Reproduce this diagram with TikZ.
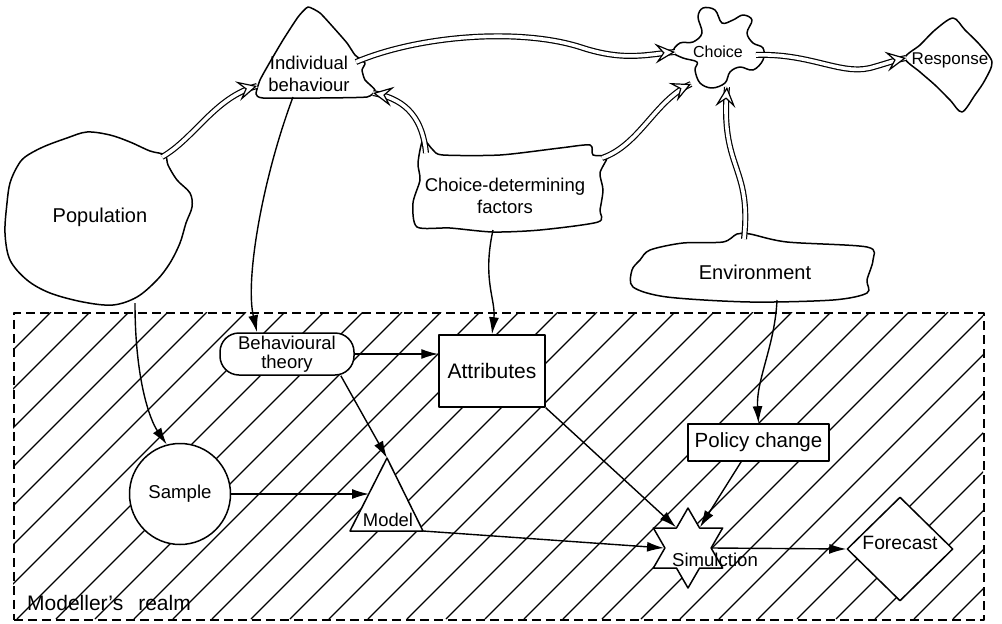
\documentclass[tikz,border=0pt]{standalone}
\usepackage{fontspec}
\setmainfont{Liberation Sans}
\usetikzlibrary{arrows.meta,shapes.geometric,calc}
\newcommand\fsz[2]{\fontsize{#1}{#2}\selectfont}
\newcommand\dtip[2]{\draw[dtipstyle] ($(#2)!10pt!(#1)$) -- (#2);}
\begin{document}
\begin{tikzpicture}[x=1pt,y=-1pt,line join=round,
  outl/.style={line width=1.5pt},
  blob/.style={draw,line width=1.5pt,fill=white},
  txt/.style={inner sep=0pt,align=center},
  box/.style={draw,fill=white,line width=1.5pt,inner sep=0pt,align=center},
  conn/.style={line width=1.4pt,-{Latex[length=17pt,width=10pt]}},
  dbl/.style={line width=1.2pt,double=white,double distance=3.6pt},
  dtipstyle/.style={line width=1.2pt,-{Stealth[open,fill=white,length=20pt,width=20pt,inset=8pt]}},
  hatch/.style={line width=1.1pt}]
\useasboundingbox (0,0) rectangle (1002,624);

% ---------- hatched modeller's realm ----------
\begin{scope}
  \clip (13,312) rectangle (983,619);
  \foreach \k in {0,...,33} {
    \pgfmathsetmacro\c{324+39*\k}
    \draw[hatch] ({\c-312},312) -- ({\c-619},619);
  }
\end{scope}
\node[draw,dash pattern=on 9pt off 5pt,line width=1.5pt,minimum width=970pt,minimum height=307pt,anchor=north west,inner sep=0pt] (realm) at (13,312) {};
\node[txt,anchor=west,font=\fsz{21}{21}] (realmlbl) at (27,603) {Modeller's\hspace{15pt}realm};

% ---------- blobs (outside) ----------
\draw[blob] plot[smooth cycle,tension=0.55] coordinates {(25,157) (43,147) (67,138) (87,132) (110,135) (130,142) (150,151) (165,155) (168,165) (177,180) (190,193) (192,207) (186,223) (180,243) (170,263) (157,280) (137,297) (113,305) (83,302) (50,293) (27,280) (10,260) (5,233) (7,203) (10,183) (17,167)};
\draw[blob] plot[smooth cycle,tension=0.3] coordinates {(308,7) (320,13) (333,27) (347,43) (355,55) (365,63) (362,70) (365,80) (375,90) (367,97) (320,98) (263,98) (256,94) (260,80) (270,62) (283,40) (298,17)};
\draw[blob] plot[smooth cycle,tension=0.45] coordinates {(423,140) (433,150) (443,155) (500,155) (560,148) (590,145) (593,155) (607,157) (600,173) (603,190) (600,210) (598,222) (540,230) (493,232) (450,228) (417,227) (413,203) (420,180) (418,163)};
\draw[blob] plot[smooth cycle,tension=0.5] coordinates {(650,250) (683,243) (723,242) (737,234) (750,234) (787,242) (867,247) (873,260) (867,280) (867,293) (833,300) (750,302) (667,297) (633,287) (632,270) (640,260)};
\draw[blob] plot[smooth cycle,tension=0.6] coordinates {(673,52) (680,43) (693,42) (702,33) (698,17) (703,8) (715,10) (722,23) (733,20) (743,15) (752,20) (747,33) (753,43) (763,48) (763,60) (753,70) (740,67) (730,72) (725,83) (712,88) (700,83) (695,70) (697,62) (683,58)};
\draw[blob] plot[smooth cycle,tension=0.5] coordinates {(905,58) (920,45) (935,30) (953,18) (965,30) (980,45) (992,62) (985,80) (975,95) (962,112) (950,100) (935,85) (920,72)};

\node[txt,font=\fsz{20}{20}] (pop) at (100,217) {Population};
\node[txt,font=\fsz{18.5}{22}] (ib) at (309,74) {Individual\\behaviour};
\node[txt,font=\fsz{18.5}{22}] (cdf) at (505,196) {Choice-determining\\factors};
\node[txt,font=\fsz{20}{20}] (env) at (755,272) {Environment};
\node[txt,font=\fsz{16}{16}] (choice) at (718,52) {Choice};
\node[txt,font=\fsz{17}{17}] (resp) at (950,60) {Response};

\coordinate (pop-ne) at (162,157);
\coordinate (pop-s) at (135,303);
\coordinate (ib-w) at (257,86);
\coordinate (ib-e) at (356,62);
\coordinate (ib-se) at (373,93);
\coordinate (ib-s) at (293,97);
\coordinate (cdf-nw) at (426,153);
\coordinate (cdf-ne) at (602,158);
\coordinate (cdf-s) at (493,230);
\coordinate (env-n) at (744,239);
\coordinate (env-s) at (777,300);
\coordinate (ch-w) at (675,52);
\coordinate (ch-sw) at (691,84);
\coordinate (ch-s) at (727,87);
\coordinate (ch-e) at (756,55);
\coordinate (resp-w) at (906,58);

% ---------- double arrows ----------
\draw[dbl] (pop-ne) .. controls (195,138) and (215,97) .. (ib-w);
\dtip{215,97}{ib-w}
\draw[dbl] (ib-e) .. controls (420,35) and (520,28) .. (580,47) .. controls (625,62) and (648,54) .. (ch-w);
\dtip{648,54}{ch-w}
\draw[dbl] (cdf-nw) .. controls (422,112) and (400,98) .. (ib-se);
\dtip{400,98}{ib-se}
\draw[dbl] (cdf-ne) .. controls (640,145) and (655,100) .. (ch-sw);
\dtip{655,100}{ch-sw}
\draw[dbl] (env-n) .. controls (752,165) and (720,170) .. (ch-s);
\dtip{720,170}{ch-s}
\draw[dbl] (ch-e) .. controls (810,53) and (840,75) .. (870,68) .. controls (885,64) and (895,60) .. (resp-w);
\dtip{895,60}{resp-w}

% ---------- nodes inside the realm ----------
\node[box,rounded corners=19pt,minimum width=134pt,minimum height=42pt,font=\fsz{18.5}{18.5}] (bt) at (287,354) {Behavioural\\theory};
\node[box,minimum width=106pt,minimum height=72pt,font=\fsz{21}{21}] (attr) at (492,371) {Attributes};
\node[box,minimum width=141pt,minimum height=37pt,font=\fsz{20.5}{20.5}] (pc) at (758.5,442.5) {Policy change};
\node[box,circle,minimum size=101pt] (sample) at (180,494) {};
\node[txt,font=\fsz{18.6}{18.6}] (samplelbl) at (180,494) {Sample};

\coordinate (m-apex) at (387,458);
\coordinate (m-r) at (423,531);
\coordinate (m-l) at (350,531);
\coordinate (m-left) at (369,494);
\draw[outl,fill=white] (m-apex) -- (m-r) -- (m-l) -- cycle;
\node[txt,font=\fsz{18.4}{18.4}] (model) at (388,520) {Model};

\node[box,star,star points=6,star point ratio=1.732,minimum size=80pt] (sim) at (688,548) {};
\node[txt,font=\fsz{18.6}{18.6}] (simlbl) at (715,560) {Simulction};

\node[box,diamond,minimum width=106pt,minimum height=104pt] (fc) at (900,549) {};
\node[txt,font=\fsz{19.3}{19.3}] (fclbl) at (900,543) {Forecast};

% ---------- thin connectors ----------
\draw[conn] (ib-s) .. controls (262,180) and (245,280) .. (bt.144);
\draw[conn] (pop-s) .. controls (135,380) and (150,420) .. (sample.105);
\draw[conn] (cdf-s) .. controls (482,280) and (496,300) .. (attr.north);
\draw[conn] (env-s) .. controls (775,345) and (756,380) .. (pc.north);
\draw[conn] (bt.east) -- (bt.east -| attr.west);
\draw[conn] (bt.-22) -- (m-apex);
\draw[conn] (sample.east) -- (m-left);
\draw[conn] (m-r) -- (sim.inner point 2);
\draw[conn] (attr.south east) -- (sim.inner point 1);
\draw[conn] (pc.228) -- (sim.inner point 6);
\draw[conn] (sim.inner point 5) -- (fc.west);
\end{tikzpicture}
\end{document}
